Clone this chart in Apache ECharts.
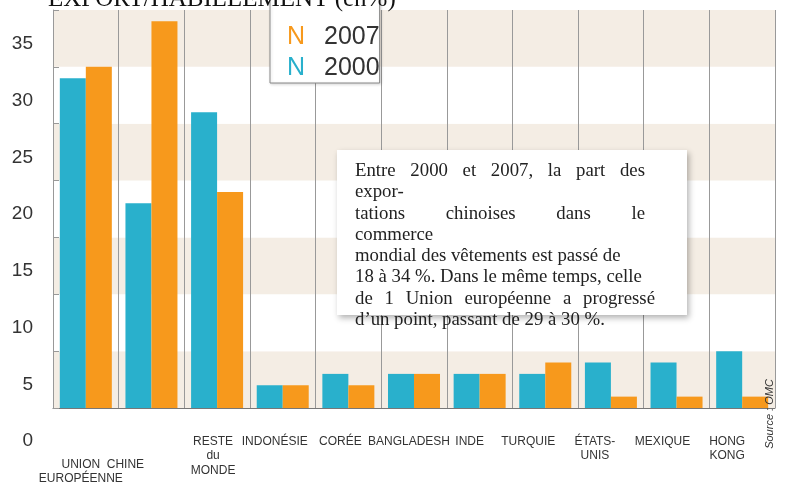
<!DOCTYPE html>
<html>
<head>
<meta charset="utf-8">
<script src="https://cdn.jsdelivr.net/npm/echarts@6/dist/echarts.min.js"></script>
<style>
  html, body { margin: 0; padding: 0; background: #fff; }
  #chart { width: 786px; height: 490px; }
</style>
</head>
<body>
<div id="chart"></div>
<script>
  // données (parts en %)
  const categories = ['UNION\nEUROPÉENNE', 'CHINE', 'RESTE\ndu\nMONDE', 'INDONÉSIE', 'CORÉE',
    'BANGLADESH', 'INDE', 'TURQUIE', 'ÉTATS-\nUNIS', 'MEXIQUE', 'HONG\nKONG']
  const values2000 = [29, 18, 26, 2, 3, 3, 3, 3, 4, 4, 5]
  const values2007 = [30, 34, 19, 2, 2, 3, 3, 4, 1, 1, 1]
  const yMin = 0
  const yMax = 35
  const yStep = 5
  const noteLines = [
    'Entre 2000 et 2007, la part des',
    'expor-',
    'tations chinoises dans le',
    'commerce',
    'mondial des vêtements est passé de',
    '18 à 34 %. Dans le même temps, celle',
    'de 1 Union européenne a progressé',
    'd’un point, passant de 29 à 30 %.'
  ]
  const noteJustify = [645, 0, 645, 0, 0, 0, 655, 0]

  // décalages des étiquettes (comme sur le scan)
  const labelShift = [-5, -26, -4, -8, -8, -5, -10, -17, -16, -14, -15]
  const labelDrop = [23, 23, 0, 0, 0, 0, 0, 0, 0, 0, 0]

  const BLUE = '#29b0cc'
  const ORANGE = '#f7991c'
  const BEIGE = '#f4ede4'

  const rich = { g: { fontSize: 12, lineHeight: 23 } }
  categories.forEach((c, i) => {
    const pr = Math.max(0, -labelShift[i] * 2)
    const pl = Math.max(0, labelShift[i] * 2)
    rich['o' + i] = { padding: [0, pr, 0, pl], lineHeight: 14.5, fontSize: 12, color: '#333', fontFamily: 'Liberation Sans' }
  })

  // texte justifié de l'encadré
  const noteFont = '18.8px "Liberation Serif"'
  const ctx = document.createElement('canvas').getContext('2d')
  ctx.font = noteFont
  const noteX = 355
  const noteY0 = 171
  const noteLh = 21.3
  const noteTexts = []
  noteLines.forEach((line, i) => {
    const y = noteY0 + i * noteLh
    const right = noteJustify[i]
    if (!right) {
      noteTexts.push({ type: 'text', x: noteX, y: y, z: 8, style: { text: line, font: noteFont, fill: '#222', verticalAlign: 'middle' } })
      return
    }
    const words = line.split(' ')
    const widths = words.map(w => ctx.measureText(w).width)
    const total = widths.reduce((a, b) => a + b, 0)
    const gap = (right - noteX - total) / (words.length - 1)
    let x = noteX
    words.forEach((w, k) => {
      noteTexts.push({ type: 'text', x: x, y: y, z: 8, style: { text: w, font: noteFont, fill: '#222', verticalAlign: 'middle' } })
      x += widths[k] + gap
    })
  })

  const chart = echarts.init(document.getElementById('chart'))
  chart.setOption({
    animation: false,
    title: {
      text: 'EXPORT/HABILLEMENT (en%)',
      left: 43,
      top: -18,
      z: 10,
      textStyle: { fontFamily: 'Liberation Serif', fontWeight: 'normal', fontSize: 25, color: '#111' }
    },
    legend: {
      data: ['2007', '2000'],
      orient: 'vertical',
      left: 270,
      top: -9,
      icon: 'none',
      itemWidth: 0,
      itemGap: 6,
      padding: [34, 0, 2, 12],
      backgroundColor: '#fff',
      borderColor: '#888',
      borderWidth: 1,
      shadowColor: 'rgba(0,0,0,0.15)',
      shadowBlur: 3,
      shadowOffsetX: 1,
      shadowOffsetY: 1,
      selectedMode: false,
      formatter: name => (name === '2007' ? '{o|N}' : '{b|N}') + '{t|' + name + '}',
      textStyle: {
        rich: {
          o: { color: ORANGE, fontSize: 25, width: 37, fontFamily: 'Liberation Sans' },
          b: { color: BLUE, fontSize: 25, width: 37, fontFamily: 'Liberation Sans' },
          t: { color: '#333', fontSize: 25, width: 96, fontFamily: 'Liberation Sans' }
        }
      }
    },
    grid: [
      { left: 53, right: 11, top: 10, bottom: 82 },
      { left: 53, right: 11, top: 44, bottom: 49 }
    ],
    xAxis: [
      {
        type: 'category',
        gridIndex: 0,
        data: categories,
        axisLine: { show: true, lineStyle: { color: '#777' } },
        axisTick: { show: false },
        splitLine: { show: true, lineStyle: { color: '#999', width: 1 } },
        axisLabel: {
          margin: 26,
          interval: 0,
          formatter: (v, i) => (labelDrop[i] ? '{g| }\n' : '') +
            v.split('\n').map(s => '{o' + i + '|' + s + '}').join('\n'),
          rich: rich
        }
      },
      { type: 'value', gridIndex: 1, show: false }
    ],
    yAxis: [
      {
        type: 'value',
        gridIndex: 0,
        min: yMin,
        max: yMax,
        interval: yStep,
        axisLabel: { show: false },
        axisLine: { show: true, lineStyle: { color: '#999' } },
        axisTick: { show: true, inside: true, length: 6, lineStyle: { color: '#999' } },
        splitLine: { show: false },
        splitArea: { show: true, areaStyle: { color: [BEIGE, '#ffffff'] } }
      },
      {
        type: 'value',
        gridIndex: 1,
        min: yMin,
        max: yMax,
        interval: yStep,
        axisLine: { show: false },
        axisTick: { show: false },
        splitLine: { show: false },
        axisLabel: { margin: 20, fontSize: 19, color: '#333', fontFamily: 'Liberation Sans' }
      }
    ],
    series: [
      {
        name: '2000',
        type: 'bar',
        data: values2000,
        barWidth: 26,
        barGap: '0%',
        itemStyle: { color: BLUE }
      },
      {
        name: '2007',
        type: 'bar',
        data: values2007,
        barWidth: 26,
        barGap: '0%',
        itemStyle: { color: ORANGE }
      }
    ],
    graphic: [
      {
        type: 'rect',
        shape: { x: 337, y: 150, width: 350, height: 165 },
        style: { fill: '#fff', shadowColor: 'rgba(0,0,0,0.3)', shadowBlur: 6, shadowOffsetX: 2, shadowOffsetY: 3 },
        z: 5
      },
      {
        type: 'text',
        x: 770,
        y: 414,
        rotation: Math.PI / 2,
        z: 6,
        style: { text: 'Source : OMC', font: 'italic 11px "Liberation Sans"', fill: '#333', align: 'center', verticalAlign: 'middle' }
      }
    ].concat(noteTexts)
  })
</script>
</body>
</html>
